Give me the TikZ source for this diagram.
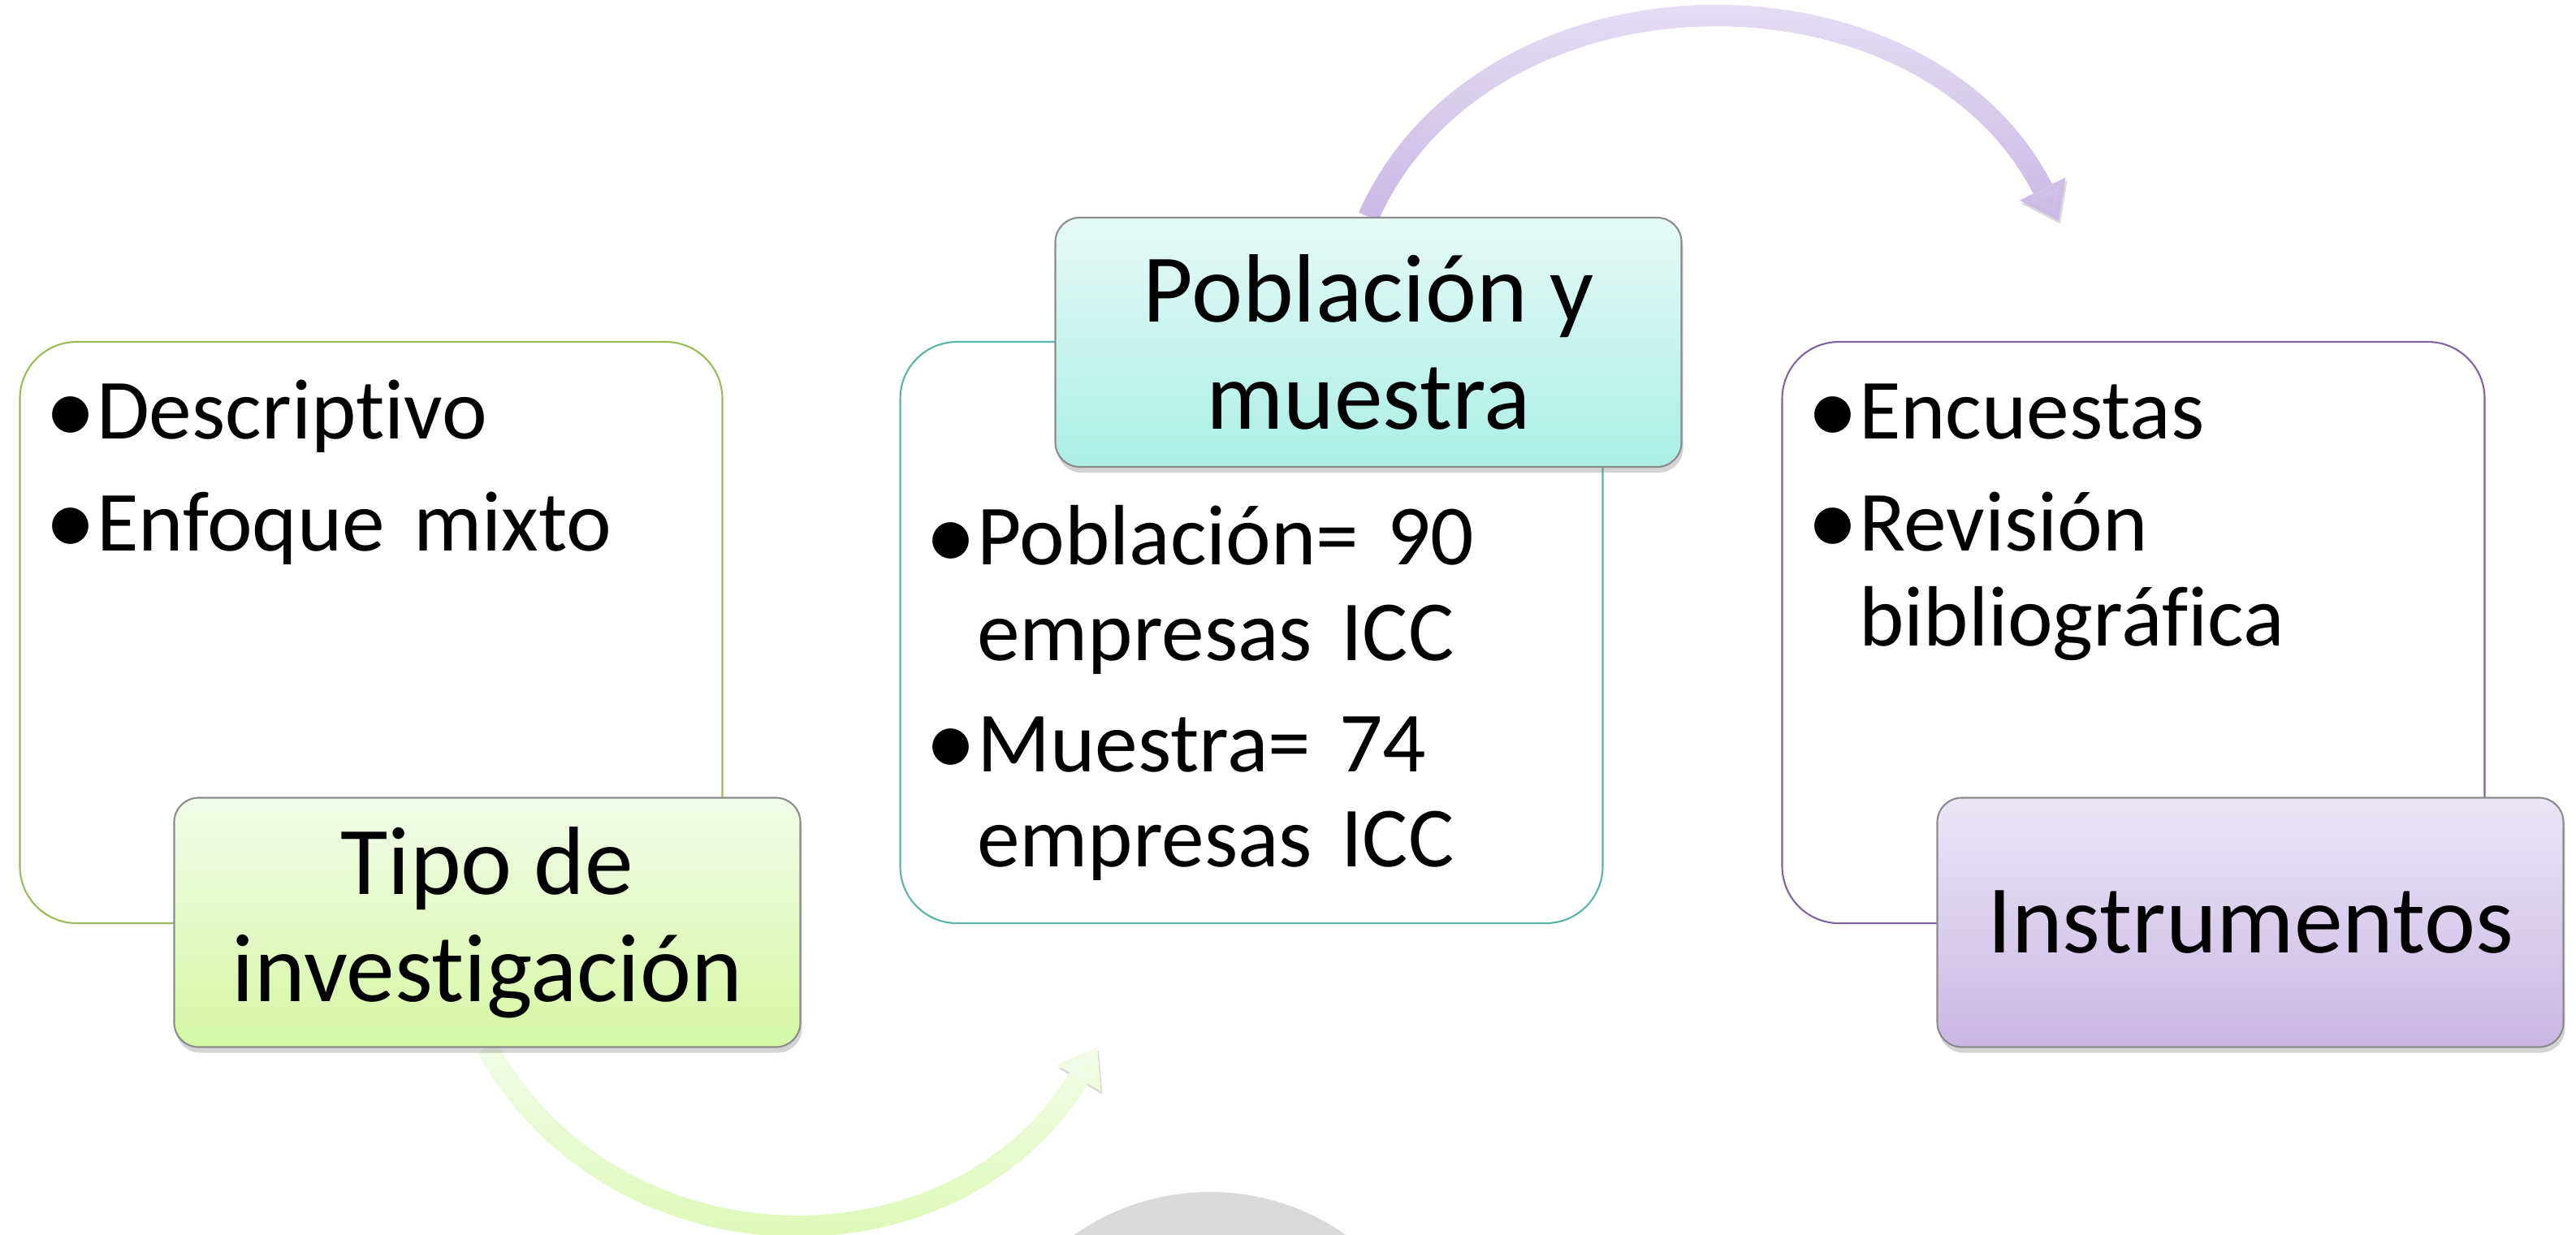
\documentclass[tikz,border=0pt]{standalone}
\usepackage{fontspec}
\setmainfont{Carlito}[Ligatures=NoCommon]
\usetikzlibrary{shapes,arrows.meta,positioning,calc,shadows,backgrounds,fadings}

\definecolor{greenline}{HTML}{9BBB59}
\definecolor{tealline}{HTML}{5AB4A6}
\definecolor{purpleline}{HTML}{8064A2}
\definecolor{greentop}{HTML}{F1FBE8}
\definecolor{greenbot}{HTML}{D6F8A4}
\definecolor{tealtop}{HTML}{E6F9F7}
\definecolor{tealbot}{HTML}{ABEFE4}
\definecolor{purpletop}{HTML}{EBE6F5}
\definecolor{purplebot}{HTML}{CAB7E5}
\definecolor{greenarctop}{HTML}{F3FCEA}
\definecolor{greenarcbot}{HTML}{D9F9AC}
\definecolor{purplearctop}{HTML}{EDE8F6}
\definecolor{purplearcbot}{HTML}{C9B7E5}
\definecolor{discgray}{HTML}{D9D9D9}

\newcommand{\bpoint}[1]{\hangindent=0.64cm\hangafter=1\noindent\makebox[0.64cm][l]{\raisebox{-0.05em}{\scalebox{1.2}{\textbullet}}}#1\par\vspace{0.2cm}}

\begin{document}
\begin{tikzpicture}[
    listbox/.style={
        rectangle,
        draw=#1,
        line width=0.6pt,
        fill=white,
        rounded corners=0.7cm,
        minimum width=8.65cm,
        minimum height=7.16cm,
        inner sep=0pt
    },
    listtext/.style={
        anchor=base west,
        text width=8cm,
        align=left,
        inner sep=0pt,
        font=\fontsize{30}{33.3}\selectfont
    },
    headbox/.style n args={2}{
        rectangle,
        draw=black!45,
        line width=0.6pt,
        top color=#1,
        bottom color=#2,
        rounded corners=0.3cm,
        minimum width=7.71cm,
        minimum height=3.07cm,
        align=center,
        font=\fontsize{34}{37.6}\selectfont,
        drop shadow={opacity=0.35, shadow xshift=0.02cm, shadow yshift=-0.07cm}
    },
    arc/.style n args={2}{
        draw=#2,
        line width=0.26cm,
        -{Triangle[length=0.44cm, width=0.6cm]},
        preaction={draw=black, opacity=0.15, transform canvas={shift={(0.02cm,-0.04cm)}}},
        postaction={draw=#1, path fading=south}
    }
]
\useasboundingbox (0,0) rectangle (31.72,-15.20);

% List boxes
\node [listbox=greenline] (desc) at (4.57,-7.79) {};
\node [listbox=tealline] (sample) at (15.41,-7.79) {};
\node [listbox=purpleline] (tools) at (26.27,-7.79) {};

\node [listtext] (desctext) at ($(desc.north west)+(0.31,-1.21)$) {%
    \bpoint{Descriptivo}
    \bpoint{Enfoque mixto}};
\node [listtext] (sampletext) at ($(sample.north west)+(0.31,-2.76)$) {%
    \bpoint{Población= 90\newline empresas ICC}
    \bpoint{Muestra= 74\newline empresas ICC}};
\node [listtext] (toolstext) at ($(tools.north west)+(0.31,-1.21)$) {%
    \bpoint{Encuestas}
    \bpoint{Revisión\newline bibliográfica}};

% Header boxes
\node [headbox={greentop}{greenbot}] (tipo) at ($(desc)+(1.43,-3.57)$) {Tipo de\\investigación};
\node [headbox={tealtop}{tealbot}] (pobl) at ($(sample)+(1.44,3.575)$) {Población y\\muestra};
\node [headbox={purpletop}{purplebot}] (instr) at ($(tools)+(1.44,-3.57)$) {Instrumentos};

\coordinate (lowend) at (13.51,-12.90);
\coordinate (highend) at (25.35,-2.72);

% Curved arrows and disc behind
\begin{scope}[on background layer]
    \begin{scope}
        \clip (0,0) rectangle (31.72,-15.20);
        \fill [discgray] (14.90,-17.59) circle (2.91);
    \end{scope}
    \draw [arc={greenarctop}{greenarcbot}] (tipo.south) .. controls (7.6,-15.77) and (11.8,-15.77) .. (lowend);
    \draw [arc={purplearctop}{purplearcbot}] (pobl.north) .. controls (18.3,0.58) and (23.7,0.58) .. (highend);
\end{scope}

\end{tikzpicture}
\end{document}
